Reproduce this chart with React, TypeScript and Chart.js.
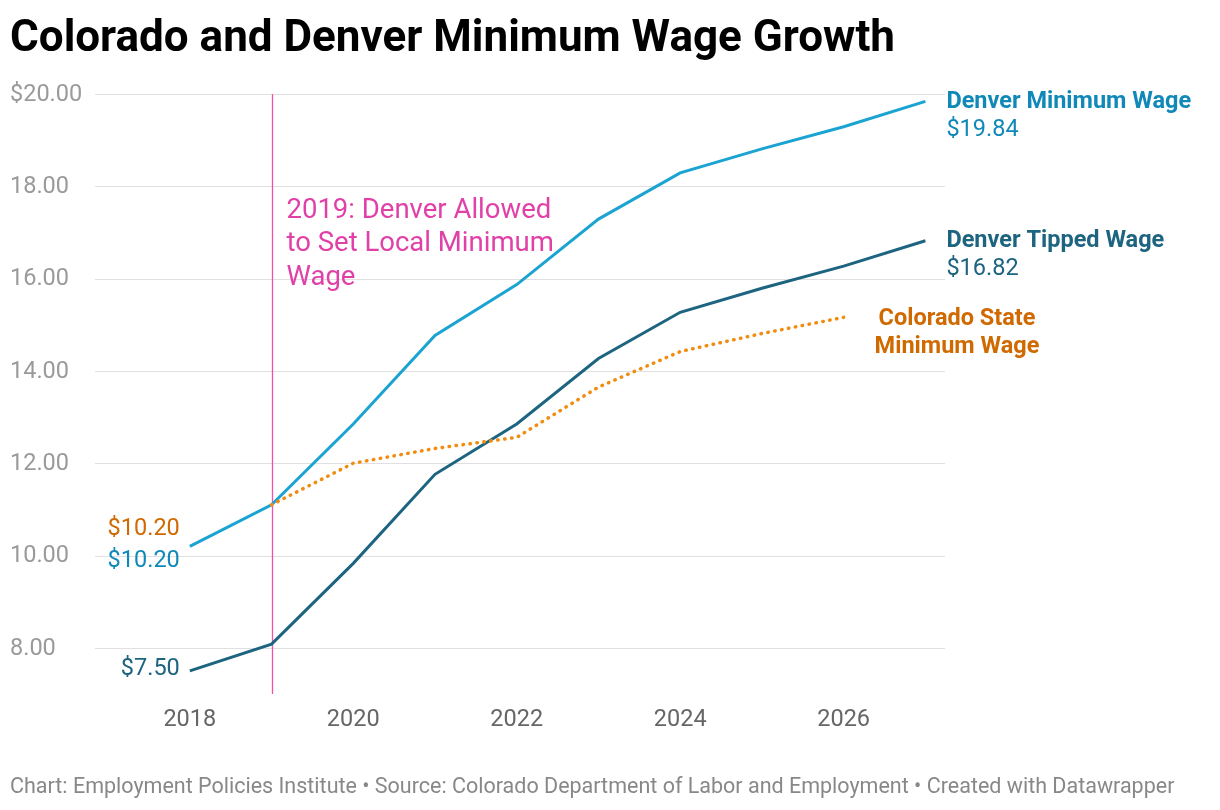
import React, { useEffect, useRef } from "react";
import { Chart, registerables } from "chart.js";
Chart.register(...registerables);

const years = [2018, 2019, 2020, 2021, 2022, 2023, 2024, 2025, 2026, 2027];
const denverMin = [10.2, 11.1, 12.85, 14.77, 15.87, 17.29, 18.29, 18.81, 19.29, 19.84];
const denverTipped = [7.5, 8.08, 9.83, 11.76, 12.85, 14.27, 15.27, 15.79, 16.27, 16.82];
const stateYears = [2019, 2020, 2021, 2022, 2023, 2024, 2025, 2026];
const stateMin = [11.1, 12.0, 12.32, 12.56, 13.65, 14.42, 14.81, 15.16];
const yTicks = [8, 10, 12, 14, 16, 18, 20];
const xTicks = [2018, 2020, 2022, 2024, 2026];
const eventYear = 2019;

const F = "Roboto, 'Noto Sans', sans-serif";

const overlay = {
  id: "overlay",
  beforeDatasetsDraw(chart: any) {
    const { ctx, scales } = chart;
    const x = scales.x, y = scales.y;
    ctx.save();
    ctx.font = `23.5px ${F}`;
    ctx.textBaseline = "middle";
    yTicks.forEach((v) => {
      const py = y.getPixelForValue(v);
      ctx.strokeStyle = "#e0e0e0";
      ctx.lineWidth = 1;
      ctx.beginPath();
      ctx.moveTo(95, Math.round(py) + 0.5);
      ctx.lineTo(945, Math.round(py) + 0.5);
      ctx.stroke();
      ctx.fillStyle = "#9a9a9a";
      ctx.textAlign = "left";
      ctx.fillText(v === 20 ? "$20.00" : v.toFixed(2), 10, py + 1);
    });
    ctx.fillStyle = "#666";
    ctx.textAlign = "center";
    xTicks.forEach((v) => ctx.fillText(String(v), x.getPixelForValue(v), 720));
    const ex = Math.round(x.getPixelForValue(eventYear)) + 0.5;
    ctx.setLineDash([]);
    ctx.lineWidth = 1.3;
    ctx.strokeStyle = "#f052ac";
    ctx.beginPath();
    ctx.moveTo(ex, y.getPixelForValue(20));
    ctx.lineTo(ex, y.getPixelForValue(7));
    ctx.stroke();
    ctx.fillStyle = "#e040a8";
    ctx.textAlign = "left";
    ctx.font = `27.5px ${F}`;
    ["2019: Denver Allowed", "to Set Local Minimum", "Wage"].forEach((t, i) =>
      ctx.fillText(t, ex + 14, 211 + i * 33.5)
    );
    ctx.restore();
  },
  afterDatasetsDraw(chart: any) {
    const { ctx, scales } = chart;
    const x = scales.x, y = scales.y;
    ctx.save();
    ctx.textBaseline = "middle";
    const lx = x.getPixelForValue(2027) + 21;
    const txt = (t: string, px: number, py: number, c: string, bold: boolean, al: CanvasTextAlign) => {
      ctx.font = `${bold ? "bold " : ""}23.5px ${F}`;
      ctx.fillStyle = c;
      ctx.textAlign = al;
      ctx.fillText(t, px, py);
    };
    const dy = y.getPixelForValue(denverMin[9]);
    txt("Denver Minimum Wage", lx, dy + 1, "#1089b8", true, "left");
    txt("$19.84", lx, dy + 29, "#1089b8", false, "left");
    const ty = y.getPixelForValue(denverTipped[9]);
    txt("Denver Tipped Wage", lx, ty, "#1d6480", true, "left");
    txt("$16.82", lx, ty + 28, "#1d6480", false, "left");
    txt("Colorado State", 957, 319, "#d06a00", true, "center");
    txt("Minimum Wage", 957, 347, "#d06a00", true, "center");
    const sx = x.getPixelForValue(2018) - 10;
    txt("$10.20", sx, y.getPixelForValue(10.2) - 17, "#d06a00", false, "right");
    txt("$10.20", sx, y.getPixelForValue(10.2) + 15, "#1089b8", false, "right");
    txt("$7.50", sx, y.getPixelForValue(7.5) - 2, "#1d6480", false, "right");
    ctx.restore();
  },
};

export default function App() {
  const ref = useRef<HTMLCanvasElement>(null);
  useEffect(() => {
    const chart = new Chart(ref.current!, {
      type: "line",
      data: {
        datasets: [
          {
            data: stateYears.map((v, i) => ({ x: v, y: stateMin[i] })),
            borderColor: "#f28c0f",
            borderWidth: 3.5,
            borderDash: [0.5, 6.5],
            borderCapStyle: "round",
            pointRadius: 0,
          },
          {
            data: years.map((v, i) => ({ x: v, y: denverTipped[i] })),
            borderColor: "#1d6480",
            borderWidth: 3,
            pointRadius: 0,
          },
          {
            data: years.map((v, i) => ({ x: v, y: denverMin[i] })),
            borderColor: "#1ba3d2",
            borderWidth: 3,
            pointRadius: 0,
          },
        ],
      },
      options: {
        animation: false,
        responsive: false,
        layout: { padding: { top: 94, bottom: 116, left: 10, right: 275 } },
        plugins: { legend: { display: false }, tooltip: { enabled: false } },
        scales: {
          x: { type: "linear", min: 2015.8, max: 2027.24, display: false },
          y: { min: 7, max: 20, display: false },
        },
      },
      plugins: [overlay],
    } as any);
    return () => chart.destroy();
  }, []);
  return (
    <div style={{ position: "fixed", left: 0, top: 0, width: 1220, height: 810, background: "#fff", fontFamily: F }}>
      <canvas ref={ref} width={1220} height={810} style={{ position: "absolute", left: 0, top: 0 }} />
      <div style={{ position: "absolute", left: 10, top: 11, fontSize: 44, fontWeight: 700, color: "#000", lineHeight: "50px", whiteSpace: "nowrap" }}>
        Colorado and Denver Minimum Wage Growth
      </div>
      <div style={{ position: "absolute", left: 10, top: 773, fontSize: 21.5, color: "#888", lineHeight: "26px", whiteSpace: "nowrap" }}>
        Chart: Employment Policies Institute • Source: Colorado Department of Labor and Employment • Created with Datawrapper
      </div>
    </div>
  );
}
